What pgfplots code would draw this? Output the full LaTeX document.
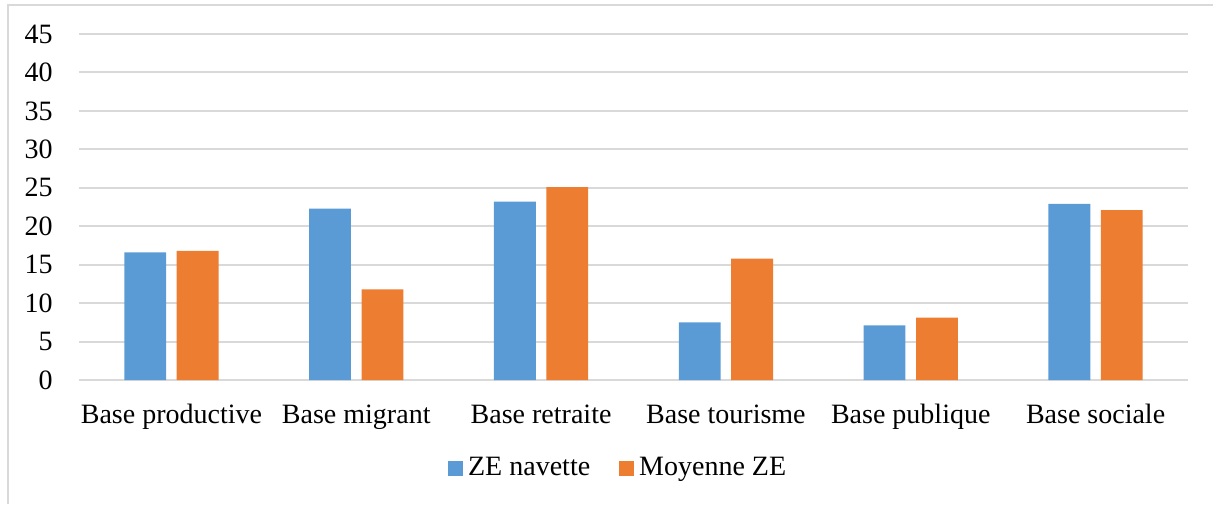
\documentclass[border=0pt]{standalone}
\usepackage{pgfplots}
\pgfplotsset{compat=1.18}
\usepackage{fontspec}
\setmainfont{Liberation Serif}
\definecolor{zeblue}{HTML}{5B9BD5}
\definecolor{zeorange}{HTML}{ED7D31}
\definecolor{gridgray}{HTML}{D9D9D9}
\begin{document}
\fontsize{14pt}{16pt}\selectfont
\begin{tikzpicture}
\useasboundingbox (0,0) rectangle (606.5pt,252pt);
\begin{axis}[
  at={(39.5pt,62pt)}, anchor=south west,
  scale only axis,
  width=554.5pt, height=173pt,
  xmin=-0.5, xmax=5.5,
  ymin=0, ymax=45,
  ytick distance=5,
  xtick={0,1,2,3,4,5},
  xticklabels={Base productive,Base migrant,Base retraite,Base tourisme,Base publique,Base sociale},
  axis line style={draw=none},
  major tick length=0pt,
  ymajorgrids,
  grid style={color=gridgray, line width=1pt},
  /pgf/number format/assume math mode=true,
  tick label style={font=\fontsize{14pt}{16pt}\selectfont},
  yticklabel style={anchor=east, inner sep=0pt, xshift=-13pt},
  xticklabel style={anchor=base, inner sep=0pt, yshift=-21.5pt},
  ybar,
  legend columns=2,
  legend style={at={(0.4875,-0.257)}, anchor=center, draw=none,
    font=\fontsize{14pt}{16pt}\selectfont,
    nodes={inner sep=2.5pt},
    /tikz/every even column/.append style={column sep=12pt}},
  legend image code/.code={\fill[#1, draw=none] (0pt,-3.75pt) rectangle (7.5pt,3.75pt);},
]
\addplot[fill=zeblue, draw=none, bar width=20.9pt, bar shift=-13.1pt] coordinates {
  (0,16.6) (1,22.3) (2,23.2) (3,7.5) (4,7.1) (5,22.9)};
\addlegendentry{ZE navette}
\addplot[fill=zeorange, draw=none, bar width=20.9pt, bar shift=13.1pt] coordinates {
  (0,16.8) (1,11.8) (2,25.1) (3,15.8) (4,8.1) (5,22.1)};
\addlegendentry{Moyenne ZE}
\end{axis}
\draw[gridgray, line width=1pt] (3.75pt,0pt) -- (3.75pt,249.5pt) -- (606.5pt,249.5pt);
\end{tikzpicture}
\end{document}
